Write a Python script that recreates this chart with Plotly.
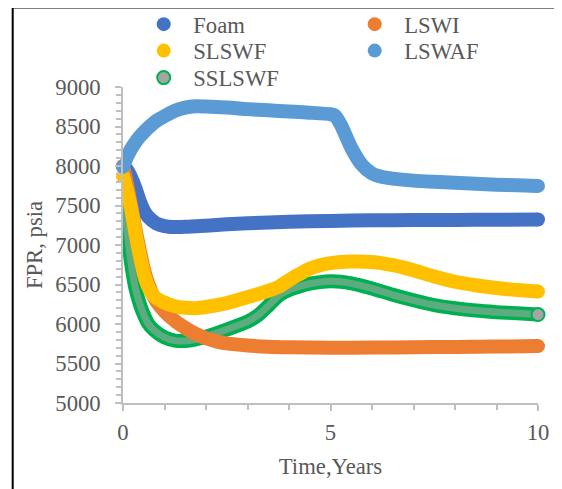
import plotly.graph_objects as go

# ---------------- data ----------------
foam_t = [0, 0.1, 0.2, 0.3, 0.4, 0.5, 0.6, 0.8, 1.0, 1.25, 1.5, 2, 2.5, 3, 4, 5, 6, 7, 8, 9, 10]
foam_p = [8000, 7950, 7850, 7720, 7560, 7440, 7360, 7275, 7240, 7228, 7230, 7245, 7262, 7275, 7295, 7305, 7312, 7316, 7318, 7320, 7322]

lswi_t = [0, 0.1, 0.2, 0.3, 0.4, 0.5, 0.6, 0.7, 0.8, 1.0, 1.25, 1.5, 1.75, 2, 2.25, 2.5, 3, 3.5, 4, 5, 6, 7, 8, 9, 10]
lswi_p = [8000, 7760, 7480, 7200, 6940, 6700, 6520, 6390, 6290, 6160, 6040, 5950, 5875, 5820, 5780, 5755, 5728, 5712, 5705, 5700, 5702, 5705, 5710, 5715, 5720]

slswf_t = [0, 0.1, 0.2, 0.3, 0.4, 0.5, 0.6, 0.75, 1, 1.25, 1.5, 1.75, 2, 2.5, 3, 3.5, 3.75, 4, 4.25, 4.5, 4.75, 5, 5.5, 6, 6.5, 7, 7.5, 8, 8.5, 9, 9.5, 10]
slswf_p = [7870, 7680, 7450, 7150, 6880, 6640, 6480, 6350, 6270, 6225, 6205, 6200, 6215, 6265, 6340, 6420, 6470, 6555, 6630, 6700, 6745, 6770, 6790, 6785, 6745, 6680, 6600, 6535, 6490, 6455, 6430, 6410]

lswaf_t = [0, 0.1, 0.2, 0.3, 0.4, 0.6, 0.8, 1.0, 1.25, 1.5, 1.75, 2, 2.5, 3, 3.5, 4, 4.5, 5, 5.1, 5.25, 5.5, 5.75, 6, 6.25, 6.5, 7, 7.5, 8, 8.5, 9, 9.5, 10]
lswaf_p = [7990, 8120, 8220, 8300, 8370, 8480, 8570, 8630, 8700, 8740, 8755, 8752, 8740, 8720, 8705, 8690, 8675, 8655, 8640, 8520, 8230, 8020, 7905, 7860, 7840, 7815, 7800, 7787, 7775, 7763, 7755, 7748]

sslswf_t = [0, 0.1, 0.2, 0.3, 0.4, 0.5, 0.6, 0.75, 1, 1.25, 1.5, 1.75, 2, 2.5, 3, 3.25, 3.5, 3.75, 4, 4.25, 4.5, 4.75, 5, 5.25, 5.5, 6, 6.5, 7, 7.5, 8, 8.5, 9, 9.5, 10]
sslswf_p = [7680, 7180, 6750, 6450, 6260, 6120, 6010, 5920, 5830, 5790, 5785, 5805, 5840, 5930, 6030, 6110, 6230, 6360, 6430, 6475, 6510, 6530, 6540, 6535, 6515, 6450, 6370, 6300, 6240, 6200, 6170, 6150, 6135, 6120]

x_ticks = [0, 5, 10]
y_ticks = [5000, 5500, 6000, 6500, 7000, 7500, 8000, 8500, 9000]

FONT = "Liberation Serif, Times New Roman, serif"
FS = 22.7
TXT = "#595959"
AX = "#BFBFBF"
W = 14

fig = go.Figure()


def band(t, p, color):
    fig.add_trace(go.Scatter(x=t, y=p, mode="lines", showlegend=False, hoverinfo="skip",
                             line=dict(color=color, width=W, shape="spline", smoothing=0.6),
                             cliponaxis=False))
    fig.add_trace(go.Scatter(x=[t[0], t[-1]], y=[p[0], p[-1]], mode="markers", showlegend=False,
                             hoverinfo="skip", marker=dict(color=color, size=W), cliponaxis=False))


# green series (bottom layer): grey-filled rings with green outline
fig.add_trace(go.Scatter(x=sslswf_t, y=sslswf_p, mode="lines", showlegend=False, hoverinfo="skip",
                         line=dict(color="#00B050", width=W, shape="spline", smoothing=0.6), cliponaxis=False))
fig.add_trace(go.Scatter(x=sslswf_t, y=sslswf_p, mode="lines", showlegend=False, hoverinfo="skip",
                         line=dict(color="rgba(170,170,170,0.55)", width=7, shape="spline", smoothing=0.6),
                         cliponaxis=False))
fig.add_trace(go.Scatter(x=[sslswf_t[-1]], y=[sslswf_p[-1]], mode="markers", showlegend=False, hoverinfo="skip",
                         marker=dict(color="#A5A5A5", size=W - 1, line=dict(color="#00B050", width=2)),
                         cliponaxis=False))

band(foam_t, foam_p, "#4472C4")
band(lswi_t, lswi_p, "#ED7D31")
band(slswf_t, slswf_p, "#FFC000")
band(lswaf_t, lswaf_p, "#5B9BD5")

# the page adds an 8px body margin, so figure pixel = page pixel - 8
OFF = 8
FW, FH = 562 - OFF, 489 - OFF
L, R, T, B = 123.3 - OFF, 538.3 - OFF, 86.7 - OFF, 403.3 - OFF
PW, PH = R - L, B - T


def px(X):
    return (X - OFF - L) / PW


def py(Y):
    return (B - (Y - OFF)) / PH


# legend entries, one legend box per entry (2 columns x 3 rows)
entries = [
    ("Foam", dict(color="#4472C4", size=14), 163.0, 24.0),
    ("LSWI", dict(color="#ED7D31", size=14), 374.0, 24.0),
    ("SLSWF", dict(color="#FFC000", size=14), 163.0, 50.5),
    ("LSWAF", dict(color="#5B9BD5", size=14), 374.0, 50.5),
    ("SSLSWF", dict(color="#A5A5A5", size=13, line=dict(color="#00B050", width=2)), 163.0, 77.5),
]
ITEMW = 49
SYM = 19 + (ITEMW - 30) / 2.0
legend_layout = {}
for i, (name, marker, mx, my) in enumerate(entries):
    key = "legend" if i == 0 else "legend%d" % (i + 1)
    fig.add_trace(go.Scatter(x=[None], y=[None], mode="markers", name=name, marker=marker, legend=key))
    legend_layout[key] = dict(font=dict(family=FONT, size=FS, color=TXT), bgcolor="rgba(0,0,0,0)",
                              orientation="v", xanchor="left", yanchor="middle", itemwidth=ITEMW,
                              x=px(mx - SYM), y=py(my))

fig.update_layout(
    width=FW, height=FH,
    margin=dict(l=L, r=FW - R, t=T, b=FH - B, autoexpand=False),
    paper_bgcolor="white", plot_bgcolor="white",
    font=dict(family=FONT, size=FS, color=TXT),
    xaxis=dict(range=[0, 10], tickvals=x_ticks, ticks="outside", ticklen=6, tickcolor=AX, tickwidth=1.5,
               showline=True, linecolor=AX, linewidth=1.5, showgrid=False, zeroline=False,
               tickfont=dict(family=FONT, size=FS, color=TXT), ticklabelstandoff=2,
               minor=dict(dtick=1, ticks="outside", ticklen=5, tickcolor=AX, tickwidth=1.5, showgrid=False),
               title=dict(text="Time,Years", font=dict(family=FONT, size=FS, color=TXT), standoff=14)),
    yaxis=dict(range=[5000, 9000], tickvals=y_ticks, ticks="outside", ticklen=6, tickcolor=AX, tickwidth=1.5,
               showline=True, linecolor=AX, linewidth=1.5, showgrid=False, zeroline=False,
               tickfont=dict(family=FONT, size=FS, color=TXT), ticklabelstandoff=10,
               minor=dict(dtick=100, ticks="outside", ticklen=5, tickcolor=AX, tickwidth=1.5, showgrid=False),
               title=dict(text="FPR, psia", font=dict(family=FONT, size=FS, color=TXT), standoff=6)),
    shapes=[dict(type="rect", xref="paper", yref="paper", x0=px(13), x1=px(640), y0=py(560), y1=py(7),
                 line=dict(color="black", width=2), fillcolor="rgba(0,0,0,0)", layer="above")],
    **legend_layout,
)

fig.write_html("out.html")
